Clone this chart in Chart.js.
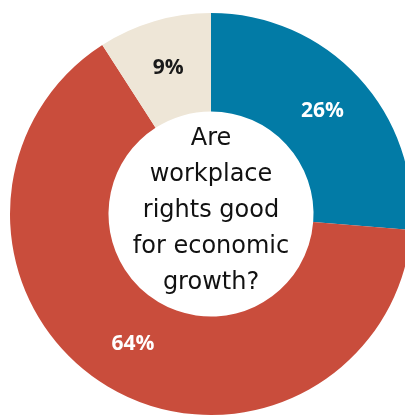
<!DOCTYPE html>
<html>
<head>
<meta charset="utf-8">
<script src="https://cdn.jsdelivr.net/npm/chart.js@4"></script>
<style>
  html, body { margin: 0; padding: 0; background: #fff; overflow: hidden; width: 405px; height: 415px; }
  #wrap { position: absolute; left: 0; top: 0; width: 422px; height: 428px; }
</style>
</head>
<body>
<div id="wrap"><canvas id="donut"></canvas></div>
<script>
// datos del gráfico
const categories = ['Yes', 'No', 'Unsure'];
const shares = [26, 64, 9];
const sliceColors = ['#027ba6', '#c94d3c', '#eee6d7'];
const labelColors = ['#ffffff', '#ffffff', '#1a1a1a'];
const centerLines = ['Are', 'workplace', 'rights good', 'for economic', 'growth?'];

// etiquetas de porcentaje y texto central
const donutText = {
    id: 'donutText',
    afterDatasetsDraw(chart) {
        const ctx = chart.ctx;
        const meta = chart.getDatasetMeta(0);
        ctx.save();
        ctx.textAlign = 'center';
        ctx.textBaseline = 'middle';
        ctx.font = '700 21px "Open Sans"';
        meta.data.forEach((arc, i) => {
            const p = arc.tooltipPosition();
            ctx.fillStyle = labelColors[i];
            ctx.fillText(shares[i] + '%', p.x, p.y);
        });

        const a = chart.chartArea;
        const cx = (a.left + a.right) / 2;
        const cy = (a.top + a.bottom) / 2;
        ctx.font = '24px "DejaVu Sans"';
        ctx.fillStyle = '#111';
        ctx.textBaseline = 'alphabetic';
        centerLines.forEach((line, i) => {
            ctx.fillText(line, cx, cy - 69 + i * 36);
        });
        ctx.restore();
    }
};

new Chart(document.getElementById('donut'), {
    type: 'doughnut',
    data: {
        labels: categories,
        datasets: [{
            data: shares,
            backgroundColor: sliceColors,
            borderWidth: 0
        }]
    },
    options: {
        responsive: true,
        maintainAspectRatio: false,
        animation: false,
        cutout: '51%',
        layout: { padding: { left: 10, right: 10, top: 13, bottom: 13 } },
        plugins: {
            legend: { display: false },
            tooltip: { enabled: false }
        }
    },
    plugins: [donutText]
});
</script>
</body>
</html>
